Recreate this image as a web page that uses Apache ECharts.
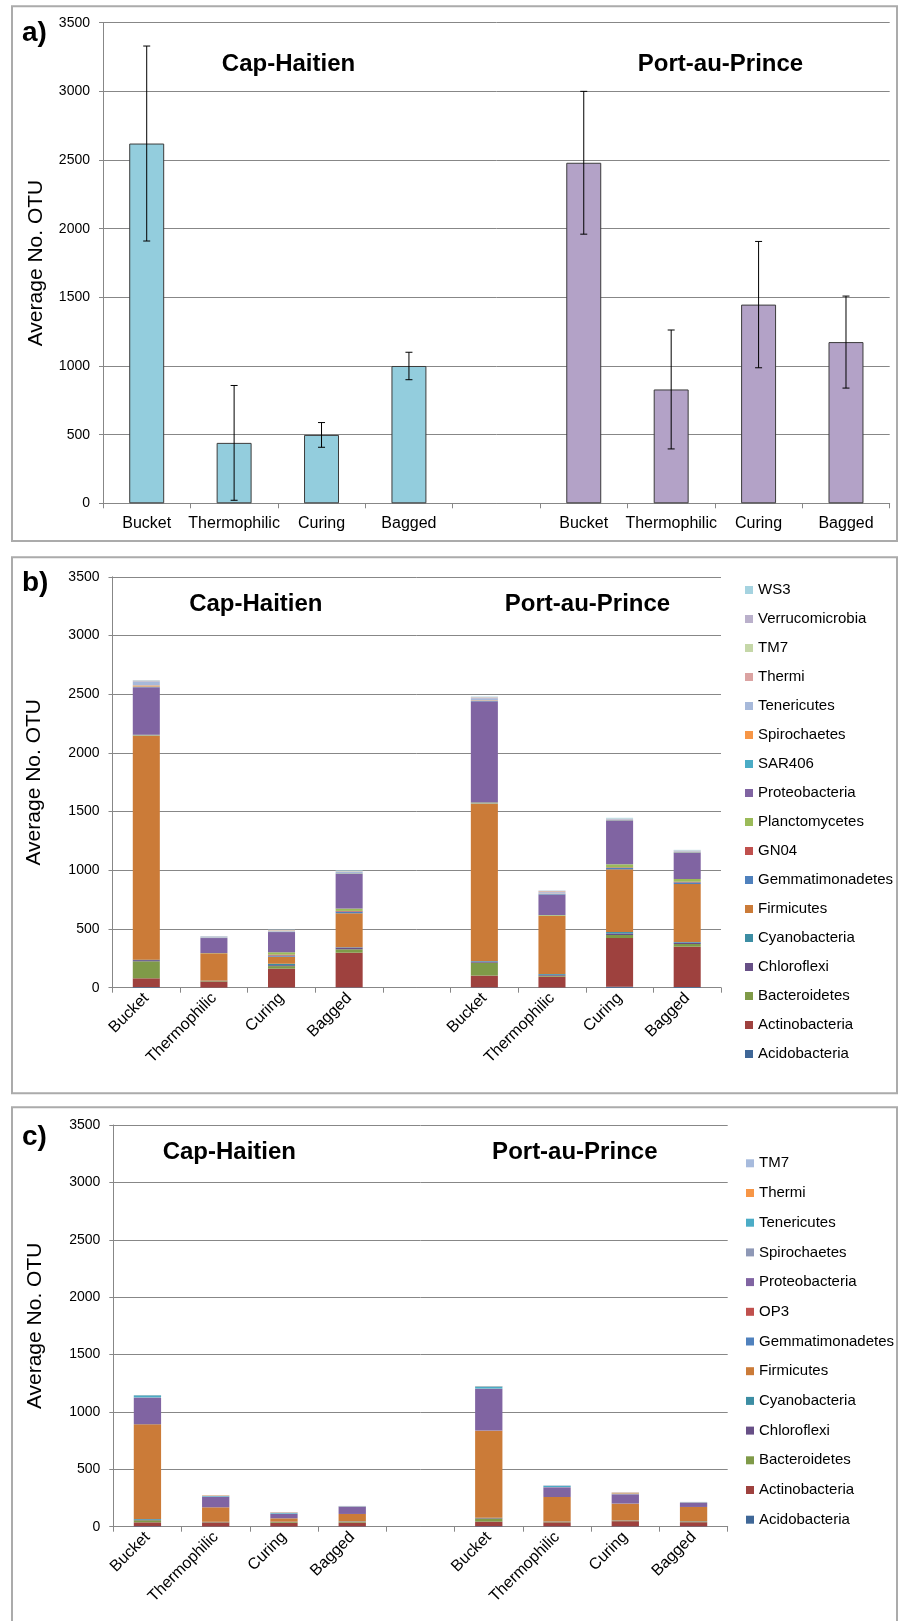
<!DOCTYPE html>
<html>
<head>
<meta charset="utf-8">
<script src="https://cdn.jsdelivr.net/npm/echarts@6/dist/echarts.min.js"></script>
<style>
  html, body { margin: 0; padding: 0; background: #fff; }
  .panel { position: absolute; left: 0; top: 0; width: 898px; height: 1621px; }
</style>
</head>
<body>
<div id="panelA" class="panel"></div>
<div id="panelB" class="panel"></div>
<div id="panelC" class="panel"></div>
<script>
// ---- shared categories (4 Cap-Haitien stages, spacer, 4 Port-au-Prince stages) ----
const stages = ['Bucket', 'Thermophilic', 'Curing', 'Bagged'];
const categories = ['Bucket', 'Thermophilic', 'Curing', 'Bagged', '', 'Bucket', 'Thermophilic', 'Curing', 'Bagged'];
const siteNames = ['Cap-Haitien', 'Port-au-Prince'];
const yAxisTitle = 'Average No. OTU';

// ---- panel a: average OTU per stage with error bars ----
const capHaitienOTU = [2620, 440, 498, 1000];
const capHaitienErr = [710, 418, 90, 100];
const portAuPrinceOTU = [2480, 829, 1447, 1174];
const portAuPrinceErr = [520, 433, 460, 335];

// ---- panel b: phylum breakdown (values: CH Bucket, Thermophilic, Curing, Bagged, PaP Bucket, Thermophilic, Curing, Bagged) ----
const phylaB = ['Acidobacteria', 'Actinobacteria', 'Bacteroidetes', 'Chloroflexi', 'Cyanobacteria', 'Firmicutes',
  'Gemmatimonadetes', 'GN04', 'Planctomycetes', 'Proteobacteria', 'SAR406', 'Spirochaetes', 'Tenericutes',
  'Thermi', 'TM7', 'Verrucomicrobia', 'WS3'];
const acidobacteriaB    = [5, 1, 2, 3, 3, 2, 8, 6];
const actinobacteriaB   = [75, 52, 160, 295, 100, 92, 415, 343];
const bacteroidetesB    = [145, 4, 22, 29, 110, 8, 26, 23];
const chloroflexiB      = [10, 2, 8, 15, 10, 8, 13, 12];
const cyanobacteriaB    = [4, 1, 12, 3, 4, 7, 12, 5];
const firmicutesB       = [1905, 233, 60, 289, 1338, 494, 534, 494];
const gemmatimonadetesB = [3, 0, 10, 14, 3, 2, 12, 14];
const gn04B             = [2, 0, 8, 6, 2, 1, 5, 6];
const planctomycetesB   = [6, 2, 20, 20, 8, 5, 26, 23];
const proteobacteriaB   = [405, 128, 172, 296, 862, 176, 373, 224];
const sar406B           = [5, 2, 2, 4, 4, 4, 3, 4];
const spirochaetesB     = [10, 2, 2, 2, 4, 3, 2, 2];
const tenericutesB      = [35, 10, 5, 12, 18, 12, 6, 6];
const thermiB           = [2, 1, 5, 2, 4, 8, 2, 2];
const tm7B              = [3, 1, 3, 3, 3, 2, 2, 3];
const verrucomicrobiaB  = [3, 0, 2, 2, 4, 2, 2, 3];
const ws3B              = [2, 1, 2, 5, 3, 2, 6, 4];
const valuesB = [acidobacteriaB, actinobacteriaB, bacteroidetesB, chloroflexiB, cyanobacteriaB, firmicutesB,
  gemmatimonadetesB, gn04B, planctomycetesB, proteobacteriaB, sar406B, spirochaetesB, tenericutesB,
  thermiB, tm7B, verrucomicrobiaB, ws3B];
const colorsB = ['#3F6797', '#9E413E', '#7F9A48', '#674F86', '#3C8DA3', '#CB7B38',
  '#4F81BD', '#C0504D', '#9BBB59', '#8064A2', '#4BACC6', '#F79646', '#A7B9DA',
  '#DBA3A2', '#C5D7A8', '#BAB0CB', '#A5D3E0'];

// ---- panel c: phylum breakdown, second sample set ----
const phylaC = ['Acidobacteria', 'Actinobacteria', 'Bacteroidetes', 'Chloroflexi', 'Cyanobacteria', 'Firmicutes',
  'Gemmatimonadetes', 'OP3', 'Proteobacteria', 'Spirochaetes', 'Tenericutes', 'Thermi', 'TM7'];
const acidobacteriaC    = [4, 2, 2, 3, 4, 3, 3, 3];
const actinobacteriaC   = [34, 35, 33, 33, 40, 35, 45, 36];
const bacteroidetesC    = [18, 3, 6, 7, 28, 5, 4, 6];
const chloroflexiC      = [5, 2, 2, 2, 4, 2, 2, 2];
const cyanobacteriaC    = [6, 1, 1, 2, 2, 1, 1, 1];
const firmicutesC       = [825, 126, 29, 64, 759, 213, 146, 124];
const gemmatimonadetesC = [2, 0, 1, 0, 1, 0, 1, 0];
const op3C              = [1, 0, 0, 0, 1, 0, 0, 0];
const proteobacteriaC   = [229, 92, 37, 63, 361, 84, 80, 38];
const spirochaetesC     = [3, 2, 3, 2, 4, 3, 3, 1];
const tenericutesC      = [18, 6, 7, 2, 18, 10, 4, 2];
const thermiC           = [1, 4, 4, 1, 2, 1, 8, 1];
const tm7C              = [1, 1, 3, 2, 2, 4, 3, 2];
const valuesC = [acidobacteriaC, actinobacteriaC, bacteroidetesC, chloroflexiC, cyanobacteriaC, firmicutesC,
  gemmatimonadetesC, op3C, proteobacteriaC, spirochaetesC, tenericutesC, thermiC, tm7C];
const colorsC = ['#3F6797', '#9E413E', '#7F9A48', '#674F86', '#3C8DA3', '#CB7B38',
  '#4F81BD', '#C0504D', '#8064A2', '#8E98B6', '#4BACC6', '#F79646', '#A7BBDD'];

// ---- helpers ----
const FONT = '"Liberation Sans", Arial, sans-serif';
const GRID_GREY = '#878787';

// put the spacer slot between the two sites
function withGap(vals) {
  return vals.slice(0, 4).concat(['-']).concat(vals.slice(4));
}

function frameRect(top, bottom) {
  return { type: 'rect', silent: true, z: 100,
    shape: { x: 12, y: top, width: 885, height: bottom - top },
    style: { fill: 'none', stroke: '#ABABAB', lineWidth: 2 } };
}

function bigText(text, x, y, size, align) {
  return { type: 'text', silent: true, z: 100, x: x, y: y,
    style: { text: text, fontFamily: FONT, fontWeight: 'bold', fontSize: size,
      fill: '#000', align: align, verticalAlign: 'middle' } };
}

function valueAxis(nameGap) {
  return {
    type: 'value', min: 0, max: 3500, interval: 500,
    name: yAxisTitle, nameLocation: 'middle', nameRotate: 90, nameGap: nameGap,
    nameTextStyle: { fontFamily: FONT, fontSize: 21, color: '#000' },
    axisLine: { show: true, lineStyle: { color: GRID_GREY, width: 1 } },
    axisTick: { show: true, length: 4, lineStyle: { color: GRID_GREY } },
    splitLine: { show: true, lineStyle: { color: GRID_GREY, width: 1 } },
    axisLabel: { fontFamily: FONT, fontSize: 14, color: '#000', margin: 13,
      formatter: function (v) { return String(v); } }
  };
}

function categoryAxis(rotate, margin) {
  return {
    type: 'category', data: categories,
    axisLine: { show: true, lineStyle: { color: GRID_GREY, width: 1 } },
    axisTick: { show: true, length: 5, lineStyle: { color: GRID_GREY } },
    axisLabel: { interval: 0, rotate: rotate, margin: margin, fontFamily: FONT, fontSize: 16, color: '#000' },
    splitLine: { show: false }
  };
}

// ---- panel a ----
const errorRows = [];
capHaitienOTU.forEach((v, i) => errorRows.push([i, v - capHaitienErr[i], v + capHaitienErr[i]]));
portAuPrinceOTU.forEach((v, i) => errorRows.push([i + 5, v - portAuPrinceErr[i], v + portAuPrinceErr[i]]));

const chartA = echarts.init(document.getElementById('panelA'), null, { renderer: 'canvas' });
chartA.setOption({
  animation: false,
  grid: { left: 103, top: 22.7, width: 786.7, height: 480.6 },
  xAxis: categoryAxis(0, 12),
  yAxis: valueAxis(56),
  series: [
    { type: 'bar', name: siteNames[0], stack: 'site', barWidth: '40%',
      data: capHaitienOTU.concat(['-', '-', '-', '-', '-']),
      itemStyle: { color: '#93CDDD', borderColor: '#3C3C3C', borderWidth: 1 } },
    { type: 'bar', name: siteNames[1], stack: 'site', barWidth: '40%',
      data: ['-', '-', '-', '-', '-'].concat(portAuPrinceOTU),
      itemStyle: { color: '#B3A2C7', borderColor: '#3C3C3C', borderWidth: 1 } },
    { type: 'custom', name: 'error', z: 10,
      data: errorRows,
      encode: { x: 0, y: [1, 2] },
      renderItem: function (params, api) {
        const lo = api.coord([api.value(0), api.value(1)]);
        const hi = api.coord([api.value(0), api.value(2)]);
        const cap = 3.5;
        const st = { stroke: '#000', lineWidth: 1 };
        return { type: 'group', children: [
          { type: 'line', shape: { x1: lo[0], y1: lo[1], x2: hi[0], y2: hi[1] }, style: st },
          { type: 'line', shape: { x1: lo[0] - cap, y1: lo[1], x2: lo[0] + cap, y2: lo[1] }, style: st },
          { type: 'line', shape: { x1: hi[0] - cap, y1: hi[1], x2: hi[0] + cap, y2: hi[1] }, style: st }
        ] };
      } }
  ],
  graphic: [
    frameRect(6.2, 541),
    bigText('a)', 22, 33.6, 28, 'left'),
    bigText(siteNames[0], 288.5, 64.4, 24, 'center'),
    bigText(siteNames[1], 720.5, 64.4, 24, 'center')
  ]
});

// ---- stacked phylum panels ----
function stackedOption(cfg) {
  return {
    animation: false,
    grid: cfg.grid,
    xAxis: categoryAxis(45, 8),
    yAxis: valueAxis(cfg.nameGap),
    legend: {
      orient: 'vertical', left: cfg.legendLeft, top: cfg.legendTop,
      icon: 'rect', itemWidth: 8, itemHeight: 8, itemGap: cfg.legendGap,
      selectedMode: false,
      data: cfg.names.slice().reverse(),
      textStyle: { fontFamily: FONT, fontSize: 15, color: '#000', lineHeight: 16 }
    },
    series: cfg.names.map((n, i) => ({
      type: 'bar', name: n, stack: 'otu', barWidth: '40%',
      data: withGap(cfg.values[i]),
      itemStyle: { color: cfg.colors[i] }
    })),
    graphic: [
      frameRect(cfg.frameTop, cfg.frameBottom),
      bigText(cfg.label, 22, cfg.labelY, 28, 'left'),
      bigText(siteNames[0], cfg.titleX[0], cfg.titleY, 24, 'center'),
      bigText(siteNames[1], cfg.titleX[1], cfg.titleY, 24, 'center')
    ]
  };
}

const chartB = echarts.init(document.getElementById('panelB'), null, { renderer: 'canvas' });
chartB.setOption(stackedOption({
  grid: { left: 112.5, top: 576.8, width: 608.5, height: 410.9 },
  nameGap: 68,
  names: phylaB, values: valuesB, colors: colorsB,
  legendLeft: 740, legendTop: 577, legendGap: 13,
  frameTop: 557.3, frameBottom: 1093.3,
  label: 'b)', labelY: 583.4,
  titleX: [255.8, 587.5], titleY: 604.4
}));

const chartC = echarts.init(document.getElementById('panelC'), null, { renderer: 'canvas' });
chartC.setOption(stackedOption({
  grid: { left: 113.3, top: 1125, width: 614.4, height: 401.7 },
  nameGap: 68,
  names: phylaC, values: valuesC, colors: colorsC,
  legendLeft: 741, legendTop: 1150.3, legendGap: 13.7,
  frameTop: 1107.3, frameBottom: 1660,
  label: 'c)', labelY: 1137.5,
  titleX: [229.3, 574.8], titleY: 1152.7
}));
</script>
</body>
</html>
